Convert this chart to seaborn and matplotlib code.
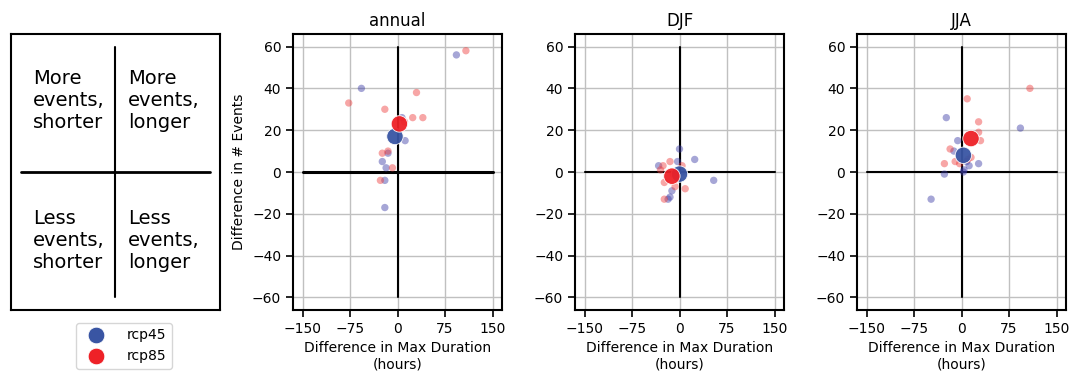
import matplotlib
matplotlib.use("Agg")
import matplotlib.pyplot as plt
import seaborn as sns
import pandas as pd
import numpy as np
from matplotlib.lines import Line2D

sns.set_style("ticks")
plt.rcParams['font.family'] = ['DejaVu Sans']
plt.rcParams['axes.linewidth'] = 1.5
plt.rcParams['xtick.major.width'] = 1.2
plt.rcParams['ytick.major.width'] = 1.2
plt.rcParams['xtick.major.size'] = 5
plt.rcParams['ytick.major.size'] = 5
plt.rcParams['xtick.labelsize'] = 10
plt.rcParams['ytick.labelsize'] = 10
for k in ['text.color', 'axes.labelcolor', 'xtick.color', 'ytick.color', 'axes.edgecolor']:
    plt.rcParams[k] = 'black'

seasons = ["annual", "DJF", "JJA"]
scenarios = ["rcp45", "rcp85"]

# individual model differences (max duration [h], number of events)
annual_rcp45_dur = [93, -57, 7, 12, -15, -24, -18, -20, -20]
annual_rcp45_evt = [56, 40, 26, 15, 9, 5, 2, -4, -17]
annual_rcp85_dur = [108, -77, 30, -20, 24, 40, 11, -15, -24, -8, -27]
annual_rcp85_evt = [58, 33, 38, 30, 26, 26, 24, 10, 9, 2, -4]

djf_rcp45_dur = [0, 24, -3, -33, 54, -12, -15, -18, 4]
djf_rcp45_evt = [11, 6, 5, 3, -4, -9, -12, -13, 0]
djf_rcp85_dur = [-15, -26, -30, 4, -24, -7, 9, -24, -10]
djf_rcp85_evt = [5, 3, 1, 3, -5, -7, -8, -13, -1]

jja_rcp45_dur = [-24, 93, -6, -12, 27, 12, 8, -27, 3, 4, -48]
jja_rcp45_evt = [26, 21, 15, 10, 4, 3, 5, -1, 0, 1, -13]
jja_rcp85_dur = [108, 9, 27, 27, 30, -18, -27, -10, -3, 15, 10]
jja_rcp85_evt = [40, 35, 24, 19, 15, 11, 4, 5, 4, 7, 6]

# ensemble means
mean_rcp45_dur = [-4, 0, 3]
mean_rcp45_evt = [17, -1, 8]
mean_rcp85_dur = [3, -12, 15]
mean_rcp85_evt = [23, -2, 16]

rows = []
for season, d45, e45, d85, e85 in [
    ("annual", annual_rcp45_dur, annual_rcp45_evt, annual_rcp85_dur, annual_rcp85_evt),
    ("DJF", djf_rcp45_dur, djf_rcp45_evt, djf_rcp85_dur, djf_rcp85_evt),
    ("JJA", jja_rcp45_dur, jja_rcp45_evt, jja_rcp85_dur, jja_rcp85_evt),
]:
    for d, e in zip(d45, e45):
        rows.append((season, "rcp45", d, e))
    for d, e in zip(d85, e85):
        rows.append((season, "rcp85", d, e))
df = pd.DataFrame(rows, columns=["season", "scenario", "dur", "evt"])

mrows = []
for i, s in enumerate(seasons):
    mrows.append((s, "rcp45", mean_rcp45_dur[i], mean_rcp45_evt[i]))
    mrows.append((s, "rcp85", mean_rcp85_dur[i], mean_rcp85_evt[i]))
dfm = pd.DataFrame(mrows, columns=["season", "scenario", "dur", "evt"])

small_pal = {"rcp45": "#3a3aa5", "rcp85": "#ee3a3a"}
big_pal = {"rcp45": "#3955a3", "rcp85": "#ee2127"}

fig = plt.figure(figsize=(10.72, 3.71), dpi=100)
W, H = 1072, 371
def add(x0, x1, y0, y1):
    return fig.add_axes([x0 / W, (H - y1) / H, (x1 - x0) / W, (y1 - y0) / H])

ax0 = add(11, 220, 34, 310)
axes = [add(293, 502, 34, 310), add(575, 784, 34, 310), add(857, 1066, 34, 310)]

def cross(ax, hlw=1.5):
    ax.plot([-150, 150], [0, 0], color="k", lw=hlw, zorder=2)
    ax.plot([0, 0], [-60, 60], color="k", lw=1.5, zorder=2)

# explanation panel
cross(ax0, hlw=2)
ax0.set_xlim(-165, 165)
ax0.set_ylim(-66, 66)
ax0.set_xticks([])
ax0.set_yticks([])
for sp in ax0.spines.values():
    sp.set_visible(True)
    sp.set_color("k")
ax0.text(-130, 34, "More\nevents,\nshorter", fontsize=14, va="center", ha="left")
ax0.text(20, 34, "More\nevents,\nlonger", fontsize=14, va="center", ha="left")
ax0.text(-130, -33, "Less\nevents,\nshorter", fontsize=14, va="center", ha="left")
ax0.text(20, -33, "Less\nevents,\nlonger", fontsize=14, va="center", ha="left")

for i, (ax, s) in enumerate(zip(axes, seasons)):
    ax.grid(True, color="#c0c0c0", lw=1, zorder=0)
    ax.set_axisbelow(True)
    cross(ax, hlw=2.2 if s == "annual" else 1.5)
    sub = df[df.season == s]
    sns.scatterplot(data=sub, x="dur", y="evt", hue="scenario", palette=small_pal,
                    hue_order=scenarios, s=28, alpha=0.45, edgecolor="none",
                    legend=False, ax=ax, zorder=3)
    subm = dfm[dfm.season == s]
    sns.scatterplot(data=subm, x="dur", y="evt", hue="scenario", palette=big_pal,
                    hue_order=scenarios, s=140, alpha=0.95, edgecolor="white",
                    linewidth=0.6, legend=False, ax=ax, zorder=4)
    ax.set_xlim(-165, 165)
    ax.set_ylim(-66, 66)
    ax.set_xticks([-150, -75, 0, 75, 150])
    ax.set_yticks([-60, -40, -20, 0, 20, 40, 60])
    ax.set_title(s, fontsize=12)
    ax.set_xlabel("Difference in Max Duration\n(hours)", fontsize=10)
    ax.set_ylabel("Difference in # Events" if i == 0 else "", fontsize=10)
    for sp in ax.spines.values():
        sp.set_visible(True)
        sp.set_color("k")

handles = [Line2D([], [], marker="o", ls="", markersize=12, markerfacecolor=big_pal[k],
                  markeredgecolor="white", markeredgewidth=0.6, label=k) for k in scenarios]
fig.legend(handles=handles, loc="upper center", bbox_to_anchor=(124 / W, (H - 316) / H),
           fontsize=10, frameon=True, handletextpad=1.2)

fig.savefig("out.png", dpi=100)
